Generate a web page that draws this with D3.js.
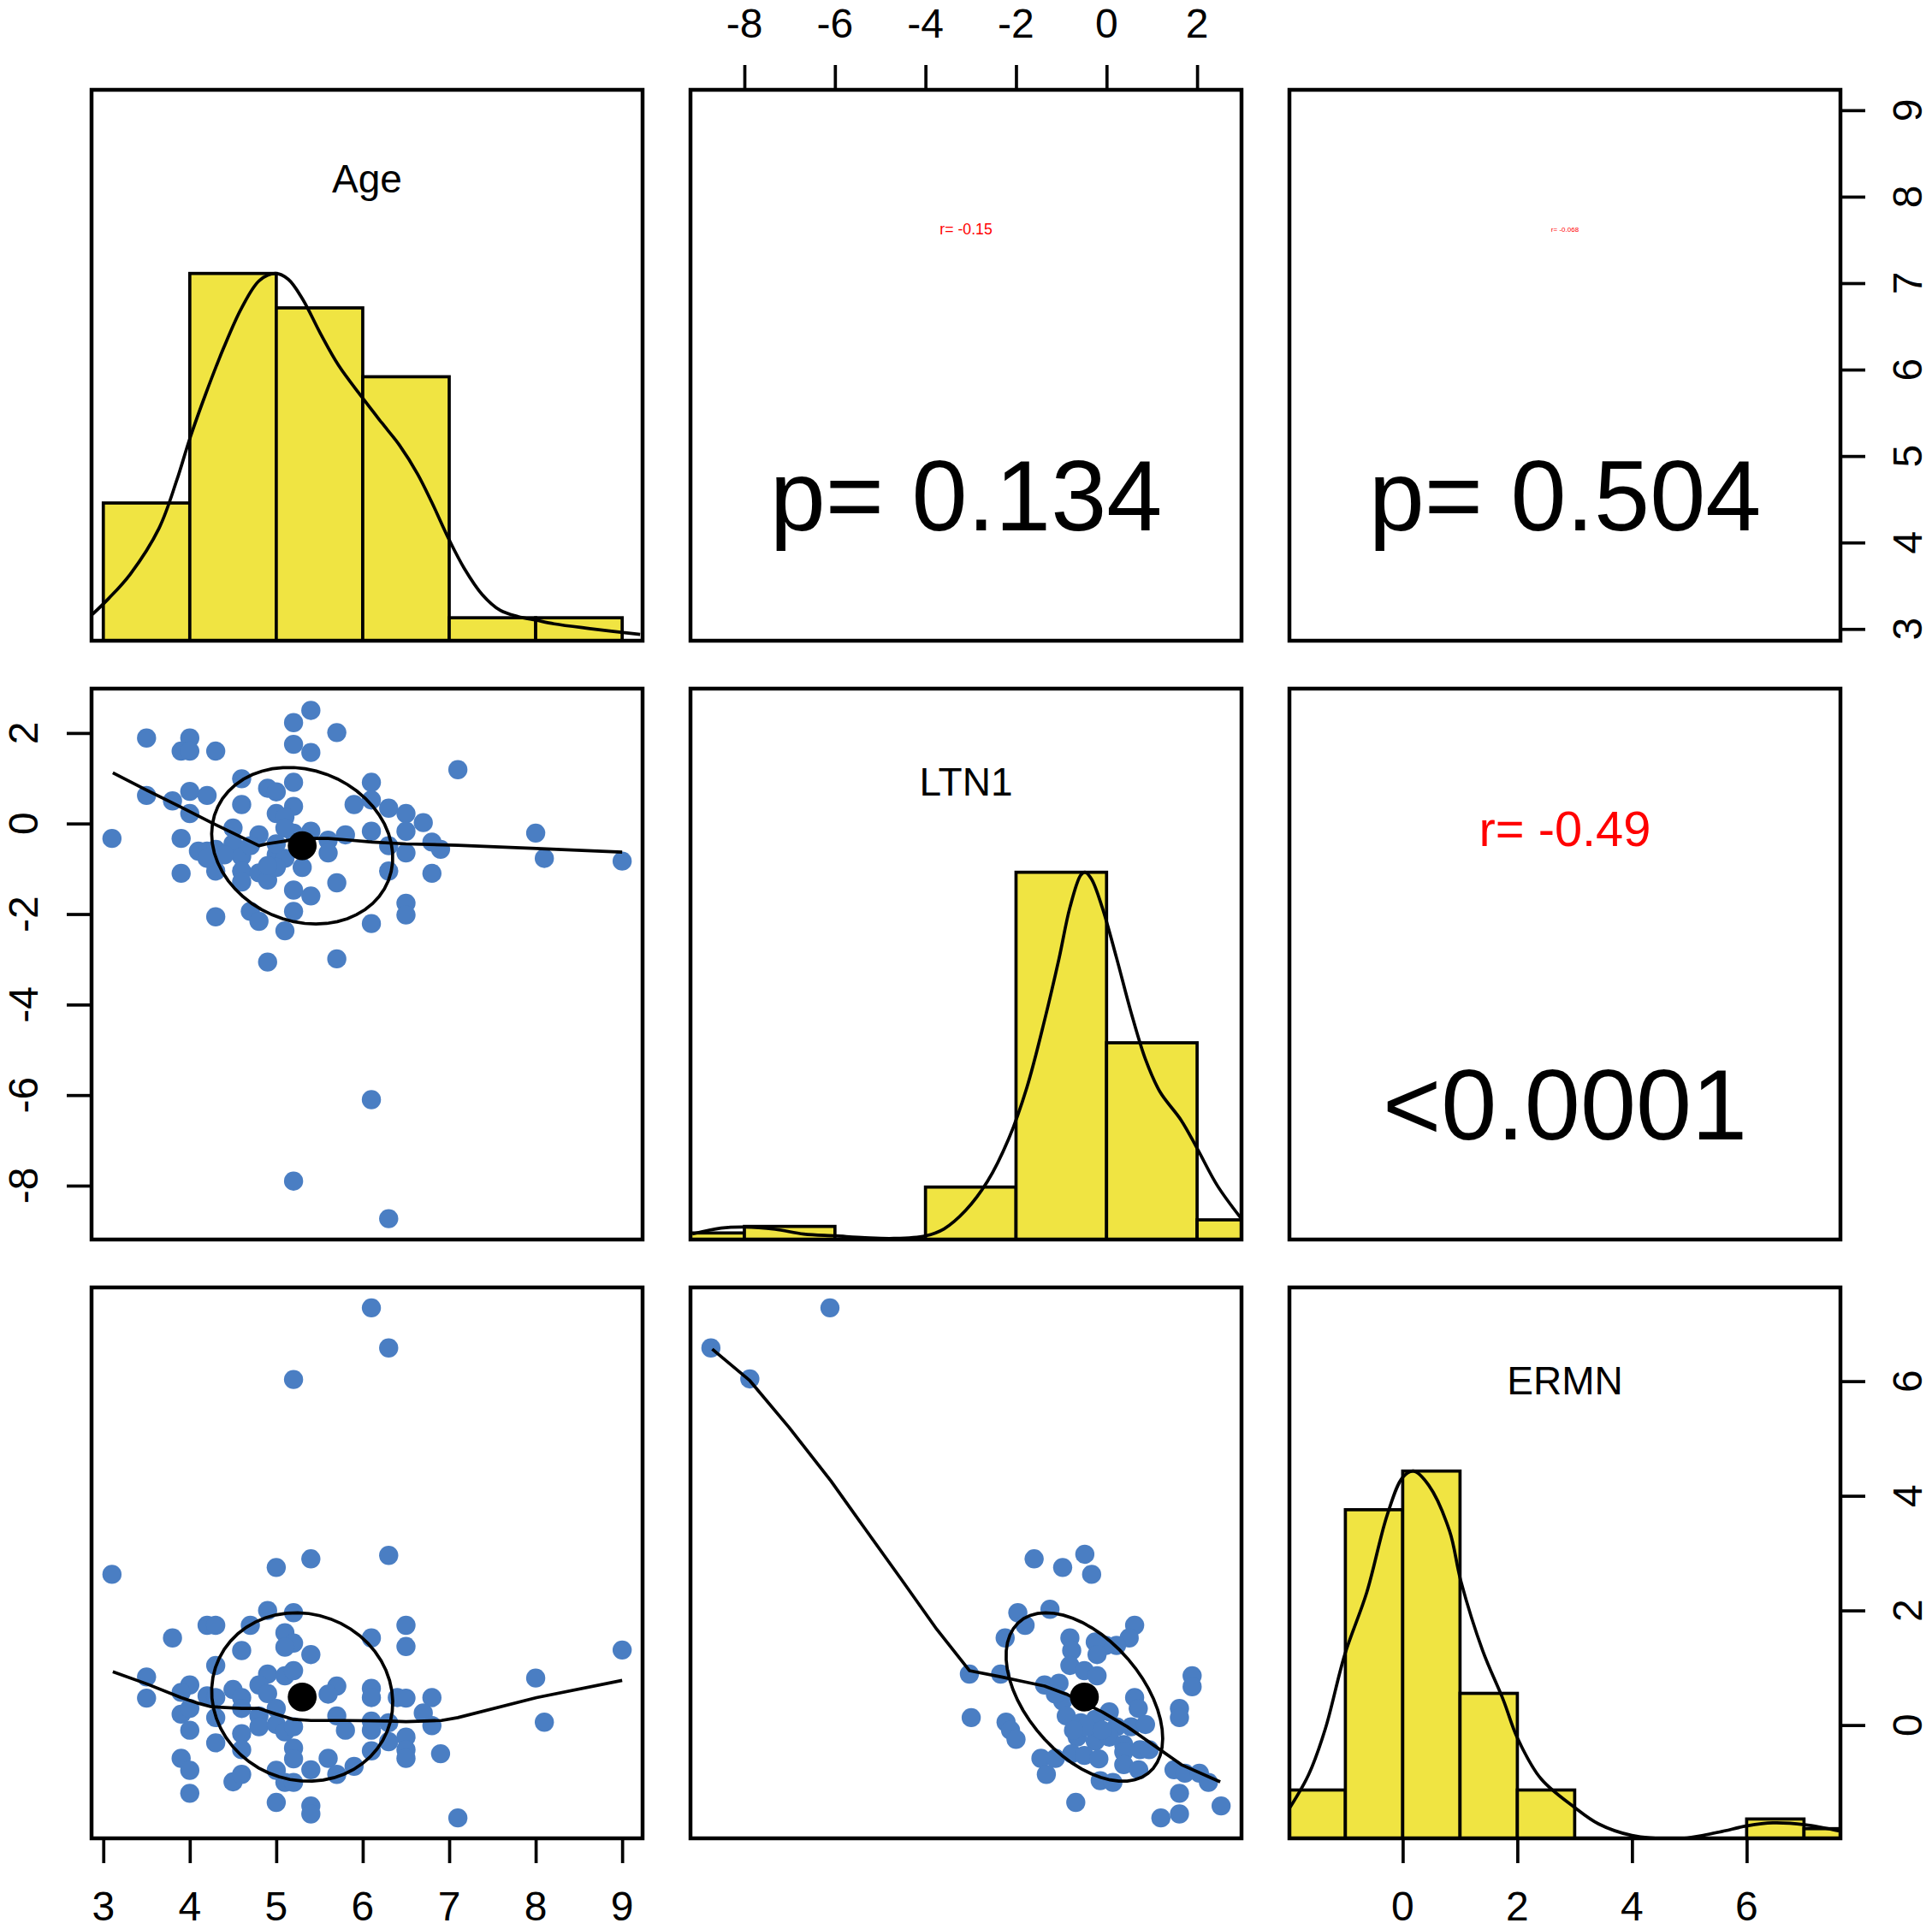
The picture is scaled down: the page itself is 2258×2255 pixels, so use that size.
<!DOCTYPE html>
<html>
<head>
<meta charset="utf-8">
<script src="https://cdn.jsdelivr.net/npm/d3@7"></script>
<style>
  body { margin: 0; background: #fff; }
  text { font-family: "Liberation Sans", Arial, sans-serif; }
</style>
</head>
<body>
<div id="chart"></div>
<script>
// Variables on the diagonal
var varNames = ["Age", "LTN1", "ERMN"];

// Histogram breaks and counts
var ageBreaks = [3, 4, 5, 6, 7, 8, 9],
    ageCounts = [12, 32, 29, 23, 2, 2];
var ltnBreaks = [-10, -8, -6, -4, -2, 0, 2, 4],
    ltnCounts = [1, 2, 0, 8, 56, 30, 3];
var ermnBreaks = [-2, -1, 0, 1, 2, 3, 4, 5, 6, 7, 8],
    ermnCounts = [5, 34, 38, 15, 5, 0, 0, 0, 2, 1];

// Density curves, scaled to a peak of 1
var ageDensity = [[2.875,0.072],[3.062,0.115],[3.311,0.181],[3.644,0.306],[3.851,0.438],[3.997,0.548],
  [4.184,0.672],[4.391,0.797],[4.599,0.906],[4.806,0.981],[4.993,1.0],[5.139,0.984],[5.305,0.930],
  [5.512,0.836],[5.720,0.750],[5.998,0.661],[6.218,0.594],[6.426,0.532],[6.634,0.454],[6.800,0.376],
  [6.999,0.275],[7.174,0.197],[7.381,0.126],[7.589,0.083],[7.796,0.066],[8.004,0.056],[8.212,0.046],
  [8.627,0.033],[9.208,0.017]];
var ltnDensity = [[-9.15,0.015],[-8.515,0.031],[-7.998,0.034],[-7.323,0.028],[-6.688,0.015],[-5.989,0.010],
  [-5.338,0.005],[-4.702,0.003],[-4.003,0.010],[-3.590,0.029],[-3.114,0.079],[-2.637,0.157],[-2.160,0.275],
  [-1.763,0.413],[-1.366,0.599],[-1.048,0.766],[-0.810,0.904],[-0.572,0.992],[-0.477,1.0],[-0.334,0.982],
  [-0.095,0.904],[0.222,0.766],[0.540,0.619],[0.858,0.491],[1.176,0.403],[1.652,0.324],[2.010,0.246],
  [2.446,0.147],[2.963,0.059]];
var ermnDensity = [[-1.986,0.079],[-1.639,0.174],[-1.350,0.298],[-1.011,0.5],[-0.628,0.669],[-0.267,0.882],
  [0,0.983],[0.188,1.0],[0.455,0.961],[0.817,0.837],[1.012,0.702],[1.395,0.511],[1.757,0.376],[1.996,0.275],
  [2.408,0.163],[3.0,0.084],[3.420,0.039],[3.998,0.008],[4.866,0],[5.517,0.017],[6.009,0.034],[6.457,0.042],
  [7.014,0.037],[7.650,0.019]];

// Scatter points [x, y]
var ageLtn = [[5.4,2.50],[5.2,2.23],[5.7,2.01],[3.5,1.89],[4.0,1.89],[3.9,1.60],[4.0,1.60],[4.3,1.60],[5.2,1.75],[5.4,1.57],
  [7.1,1.19],[4.6,0.99],[5.2,0.91],[6.1,0.91],[4.0,0.71],[4.9,0.78],[5.0,0.70],[3.5,0.62],[4.2,0.62],[3.8,0.50],
  [4.6,0.42],[5.2,0.38],[5.9,0.42],[6.1,0.52],[6.3,0.34],[4.0,0.22],[5.0,0.22],[5.1,0.14],[6.5,0.22],[6.7,0.02],
  [3.1,-0.33],[3.9,-0.33],[4.5,-0.10],[4.8,-0.25],[5.4,-0.17],[5.6,-0.37],[5.8,-0.25],[6.1,-0.17],[6.5,-0.17],[8.0,-0.21],
  [4.1,-0.61],[4.2,-0.61],[4.3,-0.57],[4.5,-0.45],[4.6,-0.73],[4.7,-0.49],[5.0,-0.69],[5.1,-0.77],[5.6,-0.65],[6.3,-0.49],
  [6.5,-0.65],[6.8,-0.41],[6.9,-0.57],[8.1,-0.77],[9.0,-0.83],[3.9,-1.10],[4.3,-1.05],[4.6,-1.05],[4.8,-1.09],[4.9,-1.25],
  [5.0,-0.97],[5.3,-0.97],[6.3,-1.05],[6.8,-1.10],[4.6,-1.29],[5.7,-1.31],[5.2,-1.47],[5.4,-1.60],[6.5,-1.76],[6.5,-2.02],
  [4.3,-2.06],[4.7,-1.94],[4.8,-2.16],[5.2,-1.94],[5.1,-2.37],[6.1,-2.21],[4.9,-3.06],[5.7,-2.99],[6.1,-6.10],[5.2,-7.90],
  [6.3,-8.73],[5.2,-0.21],[5.1,-0.10],[5.0,-0.45],[4.9,-0.93],[4.4,-0.69],[4.2,-0.77],[5.3,-0.53]];
var ageErmn = [[6.1,7.28],[6.3,6.58],[5.2,6.03],[3.1,2.63],[5.0,2.75],[5.4,2.90],[6.3,2.96],[4.9,2.00],[5.2,1.96],[4.2,1.74],
  [4.3,1.74],[4.7,1.74],[3.8,1.52],[5.1,1.61],[5.2,1.43],[6.1,1.52],[6.5,1.74],[6.5,1.37],[4.6,1.30],[5.1,1.36],
  [5.4,1.23],[9.0,1.31],[4.3,1.04],[4.9,0.89],[5.1,0.86],[5.2,0.95],[3.5,0.84],[8.0,0.82],[4.0,0.70],[3.9,0.57],
  [4.2,0.51],[4.3,0.48],[4.5,0.62],[4.8,0.70],[4.9,0.55],[5.7,0.68],[5.6,0.54],[6.1,0.64],[6.1,0.48],[6.4,0.48],
  [6.5,0.47],[6.8,0.48],[3.5,0.47],[3.9,0.19],[4.0,0.29],[4.3,0.13],[4.6,0.48],[4.6,0.29],[4.8,0.16],[4.8,-0.03],
  [5.0,0.29],[5.0,0.01],[5.1,-0.12],[5.2,-0.03],[5.7,0.16],[5.8,-0.09],[6.1,0.07],[6.1,-0.09],[6.3,0.04],[6.7,0.21],
  [6.8,-0.01],[8.1,0.05],[4.0,-0.09],[4.3,-0.31],[4.6,-0.15],[4.6,-0.43],[6.5,-0.21],[6.3,-0.29],[6.5,-0.43],[6.5,-0.58],
  [6.1,-0.45],[6.9,-0.50],[5.2,-0.40],[5.2,-0.59],[5.6,-0.58],[3.9,-0.58],[4.0,-0.79],[4.5,-0.99],[4.6,-0.86],[5.0,-0.79],
  [5.1,-1.00],[5.2,-1.00],[5.4,-0.78],[5.7,-0.86],[5.9,-0.72],[4.0,-1.19],[5.0,-1.35],[5.4,-1.41],[5.4,-1.55],[7.1,-1.62],
  [5.3,0.50]];
var ltnErmn = [[-6.11,7.28],[-8.74,6.58],[-7.88,6.04],[-1.60,2.90],[-0.97,2.75],[-0.48,2.98],[-0.33,2.63],[-1.25,2.02],[-1.96,1.96],[-1.80,1.74],
  [-2.24,1.52],[0.62,1.74],[0.50,1.52],[0.22,1.39],[-0.02,1.39],[-0.25,1.45],[-0.81,1.52],[-0.77,1.30],[-0.21,1.23],[-0.81,1.04],
  [-0.49,0.95],[-0.21,0.86],[1.89,0.86],[1.89,0.67],[-3.03,0.89],[-2.34,0.89],[-1.37,0.70],[-1.05,0.73],[0.62,0.48],[0.70,0.29],
  [-0.97,0.42],[-1.13,0.54],[1.61,0.29],[1.61,0.13],[0.06,0.23],[-2.99,0.13],[-2.22,0.05],[-2.12,-0.09],[-2.00,-0.25],[-0.89,0.16],
  [-0.57,0.04],[-0.25,0.10],[0.22,-0.03],[0.54,-0.03],[0.86,0.01],[-0.65,-0.21],[-0.25,-0.28],[0.06,-0.21],[0.38,-0.34],[0.38,-0.47],
  [0.74,-0.43],[0.94,-0.43],[-1.45,-0.58],[-1.13,-0.58],[-0.77,-0.50],[-0.49,-0.53],[-0.17,-0.59],[-1.33,-0.86],[0.38,-0.69],[0.71,-0.78],
  [1.49,-0.78],[1.73,-0.84],[2.05,-0.84],[2.25,-1.00],[-0.14,-0.97],[0.14,-1.00],[1.61,-1.19],[-0.68,-1.35],[2.53,-1.41],[1.20,-1.62],
  [1.61,-1.55],[-0.45,-0.03],[-0.10,-0.09],[-0.73,-0.09],[-0.48,0.49]];

// Lowess smooths
var ageLtnSmooth = [[3.11,1.12],[3.50,0.74],[3.90,0.36],[4.25,0.02],[4.50,-0.21],[4.80,-0.49],[4.89,-0.45],[5.09,-0.39],
  [5.30,-0.31],[5.40,-0.33],[5.60,-0.33],[5.81,-0.36],[6.11,-0.41],[6.50,-0.45],[7.10,-0.48],[8.01,-0.55],[9.00,-0.63]];
var ageErmnSmooth = [[3.11,0.93],[3.50,0.72],[3.90,0.48],[4.10,0.38],[4.25,0.32],[4.60,0.29],[4.80,0.29],[5.00,0.19],
  [5.20,0.10],[5.40,0.08],[5.81,0.08],[6.31,0.07],[6.50,0.06],[6.91,0.08],[7.10,0.13],[8.01,0.48],[9.00,0.78]];
var ltnErmnSmooth = [[-8.71,6.56],[-7.88,6.01],[-7.01,5.19],[-6.09,4.26],[-5.34,3.43],[-4.54,2.55],[-3.75,1.67],[-3.03,0.95],
  [-2.32,0.84],[-1.84,0.76],[-1.37,0.68],[-0.89,0.54],[-0.48,0.38],[-0.10,0.23],[0.46,-0.03],[1.02,-0.34],[1.65,-0.69],[2.51,-0.99]];

// Summary statistics
var means = [5.30, -0.49, 0.49],
    sds = [1.047, 1.73, 1.47];
var rValues = [-0.15, -0.068, -0.49];          // Age-LTN1, Age-ERMN, LTN1-ERMN
var pLabels = ["p= 0.134", "p= 0.504", "<0.0001"];

// Tick labels
var tickSets = [[3, 4, 5, 6, 7, 8, 9], [-8, -6, -4, -2, 0, 2], [0, 2, 4, 6]];

// ---- layout ----
var cellSize = 644, cellStep = 700, marginLeft = 107, marginTop = 105,
    lw = 3.7, boxLw = 4.5, tickLen = 29, tickFont = 48,
    histFill = "#F0E442",
    pointFill = "#4a7ec3";

var svg = d3.select("#chart")
            .append("svg")
            .attr("width", 2258)
            .attr("height", 2255)
            .style("display", "block");

svg.append("rect").attr("width", 2258).attr("height", 2255).attr("fill", "#fff");

// domains from the data, widened 4% like R does
var columns = [
  ageLtn.map(function(d) { return d[0]; }).concat(ageErmn.map(function(d) { return d[0]; })),
  ageLtn.map(function(d) { return d[1]; }).concat(ltnErmn.map(function(d) { return d[0]; })),
  ageErmn.map(function(d) { return d[1]; }).concat(ltnErmn.map(function(d) { return d[1]; }))
];
var domains = columns.map(function(v) {
  var e = d3.extent(v), pad = (e[1] - e[0]) * 0.04;
  return [e[0] - pad, e[1] + pad];
});

function cellX(j) { return marginLeft + j * cellStep; }
function cellY(i) { return marginTop + i * cellStep; }
function xScale(j) { return d3.scaleLinear().domain(domains[j]).range([cellX(j), cellX(j) + cellSize]); }
function yScale(i) { return d3.scaleLinear().domain(domains[i]).range([cellY(i) + cellSize, cellY(i)]); }

var hists = [[ageBreaks, ageCounts, ageDensity], [ltnBreaks, ltnCounts, ltnDensity], [ermnBreaks, ermnCounts, ermnDensity]];
var scatters = { "1-0": [ageLtn, ageLtnSmooth, 0], "2-0": [ageErmn, ageErmnSmooth, 1], "2-1": [ltnErmn, ltnErmnSmooth, 2] };
var uppers = { "0-1": 0, "0-2": 1, "1-2": 2 };

// place text so that its ink is centred on cy (R centres on the glyph box)
function baselineFor(str, cy, fs) {
  return cy + (/[gjpqy]/.test(str) ? 0.253 : 0.358) * fs;
}

function ellipsePoints(xm, ym, xs, ys, r) {
  var th = (r > 0 ? 1 : -1) / Math.SQRT2, a = Math.sqrt(1 + r), b = Math.sqrt(1 - r);
  return d3.range(52).map(function(k) {
    var t = k * 2 * Math.PI / 51, c = Math.cos(t), s = Math.sin(t);
    return [xm + xs * (c * a * th - s * b * th), ym + ys * (c * a * th + s * b * th)];
  });
}

var defs = svg.append("defs");

function drawCell(i, j) {
  var id = "clip-" + i + "-" + j, key = i + "-" + j;
  defs.append("clipPath").attr("id", id)
      .append("rect").attr("x", cellX(j)).attr("y", cellY(i)).attr("width", cellSize).attr("height", cellSize);

  var cell = svg.append("g").attr("clip-path", "url(#" + id + ")");
  var x = xScale(j);

  if (i === j) {
    // histogram with density
    var br = hists[i][0], cn = hists[i][1], dens = hists[i][2], maxC = d3.max(cn);
    var yh = d3.scaleLinear().domain([0, 1.5]).range([cellY(i) + cellSize, cellY(i)]);
    cell.selectAll("rect.bar")
        .data(cn)
        .enter()
        .append("rect")
        .attr("class", "bar")
        .attr("x", function(d, k) { return x(br[k]); })
        .attr("width", function(d, k) { return x(br[k + 1]) - x(br[k]); })
        .attr("y", function(d) { return yh(d / maxC); })
        .attr("height", function(d) { return yh(0) - yh(d / maxC); })
        .attr("fill", histFill)
        .attr("stroke", "#000")
        .attr("stroke-width", lw);
    cell.append("path")
        .datum(dens)
        .attr("fill", "none")
        .attr("stroke", "#000")
        .attr("stroke-width", lw)
        .attr("d", d3.line()
                     .curve(d3.curveCatmullRom)
                     .x(function(d) { return x(d[0]); })
                     .y(function(d) { return yh(d[1]); }));
    var lab = varNames[i], fsL = 46;
    svg.append("text")
       .attr("x", cellX(j) + cellSize / 2)
       .attr("y", baselineFor(lab, cellY(i) + cellSize * 0.169, fsL))
       .attr("text-anchor", "middle")
       .attr("font-size", fsL)
       .text(lab);
  } else if (i > j) {
    // scatter with lowess, correlation ellipse and mean
    var y = yScale(i), sc = scatters[key], r = rValues[sc[2]];
    cell.selectAll("circle.pt")
        .data(sc[0])
        .enter()
        .append("circle")
        .attr("class", "pt")
        .attr("cx", function(d) { return x(d[0]); })
        .attr("cy", function(d) { return y(d[1]); })
        .attr("r", 11.2)
        .attr("fill", pointFill);
    var line = d3.line()
                 .x(function(d) { return x(d[0]); })
                 .y(function(d) { return y(d[1]); });
    cell.append("path")
        .datum(sc[1])
        .attr("fill", "none")
        .attr("stroke", "#000")
        .attr("stroke-width", lw)
        .attr("stroke-linejoin", "round")
        .attr("d", line);
    cell.append("circle")
        .attr("cx", x(means[j]))
        .attr("cy", y(means[i]))
        .attr("r", 16.9)
        .attr("fill", "#000");
    cell.append("path")
        .datum(ellipsePoints(means[j], means[i], sds[j], sds[i], r))
        .attr("fill", "none")
        .attr("stroke", "#000")
        .attr("stroke-width", lw)
        .attr("d", line);
  } else {
    // correlation and p value
    var k = uppers[key], rTxt = "r= " + rValues[k], fsR = 118 * Math.abs(rValues[k]);
    svg.append("text")
       .attr("x", cellX(j) + cellSize / 2)
       .attr("y", baselineFor(rTxt, cellY(i) + cellSize * 0.253, fsR))
       .attr("text-anchor", "middle")
       .attr("font-size", fsR)
       .attr("fill", "#ff0000")
       .text(rTxt);
    var pTxt = pLabels[k], fsP = 117;
    svg.append("text")
       .attr("x", cellX(j) + cellSize / 2)
       .attr("y", baselineFor(pTxt, cellY(i) + cellSize * 0.753, fsP))
       .attr("text-anchor", "middle")
       .attr("font-size", fsP)
       .attr("fill", "#000")
       .text(pTxt);
  }

  svg.append("rect")
     .attr("x", cellX(j)).attr("y", cellY(i))
     .attr("width", cellSize).attr("height", cellSize)
     .attr("fill", "none")
     .attr("stroke", "#000")
     .attr("stroke-width", boxLw);
}

for (var i = 0; i < 3; i++) {
  for (var j = 0; j < 3; j++) {
    drawCell(i, j);
  }
}

// ---- axes (alternating sides, as in R's pairs) ----
// D3 draws the tick marks; labels are placed as plain texts from the same scale
function tickMarks(g) {
  g.select(".domain").remove();
  g.selectAll(".tick text").remove();
  g.selectAll(".tick line").attr("stroke", "#000").attr("stroke-width", lw);
}

var labels = svg.append("g").attr("class", "tick-labels");

for (var c = 0; c < 3; c++) {
  var isBottom = c % 2 === 0, sx = xScale(c),
      edge = isBottom ? cellY(2) + cellSize : cellY(0);
  var ax = isBottom ? d3.axisBottom(sx) : d3.axisTop(sx);
  ax.tickValues(tickSets[c]).tickSizeInner(tickLen).tickSizeOuter(0);
  svg.append("g")
     .attr("transform", "translate(0," + edge + ")")
     .call(ax)
     .call(tickMarks);
  labels.selectAll(null)
        .data(tickSets[c])
        .enter()
        .append("text")
        .attr("x", function(d) { return sx(d); })
        .attr("y", baselineFor("0", edge + (isBottom ? 79 : -78), tickFont))
        .attr("text-anchor", "middle")
        .attr("font-size", tickFont)
        .text(function(d) { return String(d); });
}

for (var rr = 0; rr < 3; rr++) {
  var isLeft = rr % 2 === 1, sy = yScale(rr),
      side = isLeft ? cellX(0) : cellX(2) + cellSize,
      cx = side + (isLeft ? -80 : 78);
  var ay = isLeft ? d3.axisLeft(sy) : d3.axisRight(sy);
  ay.tickValues(tickSets[rr]).tickSizeInner(tickLen).tickSizeOuter(0);
  svg.append("g")
     .attr("transform", "translate(" + side + ",0)")
     .call(ay)
     .call(tickMarks);
  labels.selectAll(null)
        .data(tickSets[rr])
        .enter()
        .append("text")
        .attr("x", cx)
        .attr("y", function(d) { return sy(d); })
        .attr("dy", "0.358em")
        .attr("text-anchor", "middle")
        .attr("font-size", tickFont)
        .attr("transform", function(d) { return "rotate(-90," + cx + "," + sy(d) + ")"; })
        .text(function(d) { return String(d); });
}
</script>
</body>
</html>
